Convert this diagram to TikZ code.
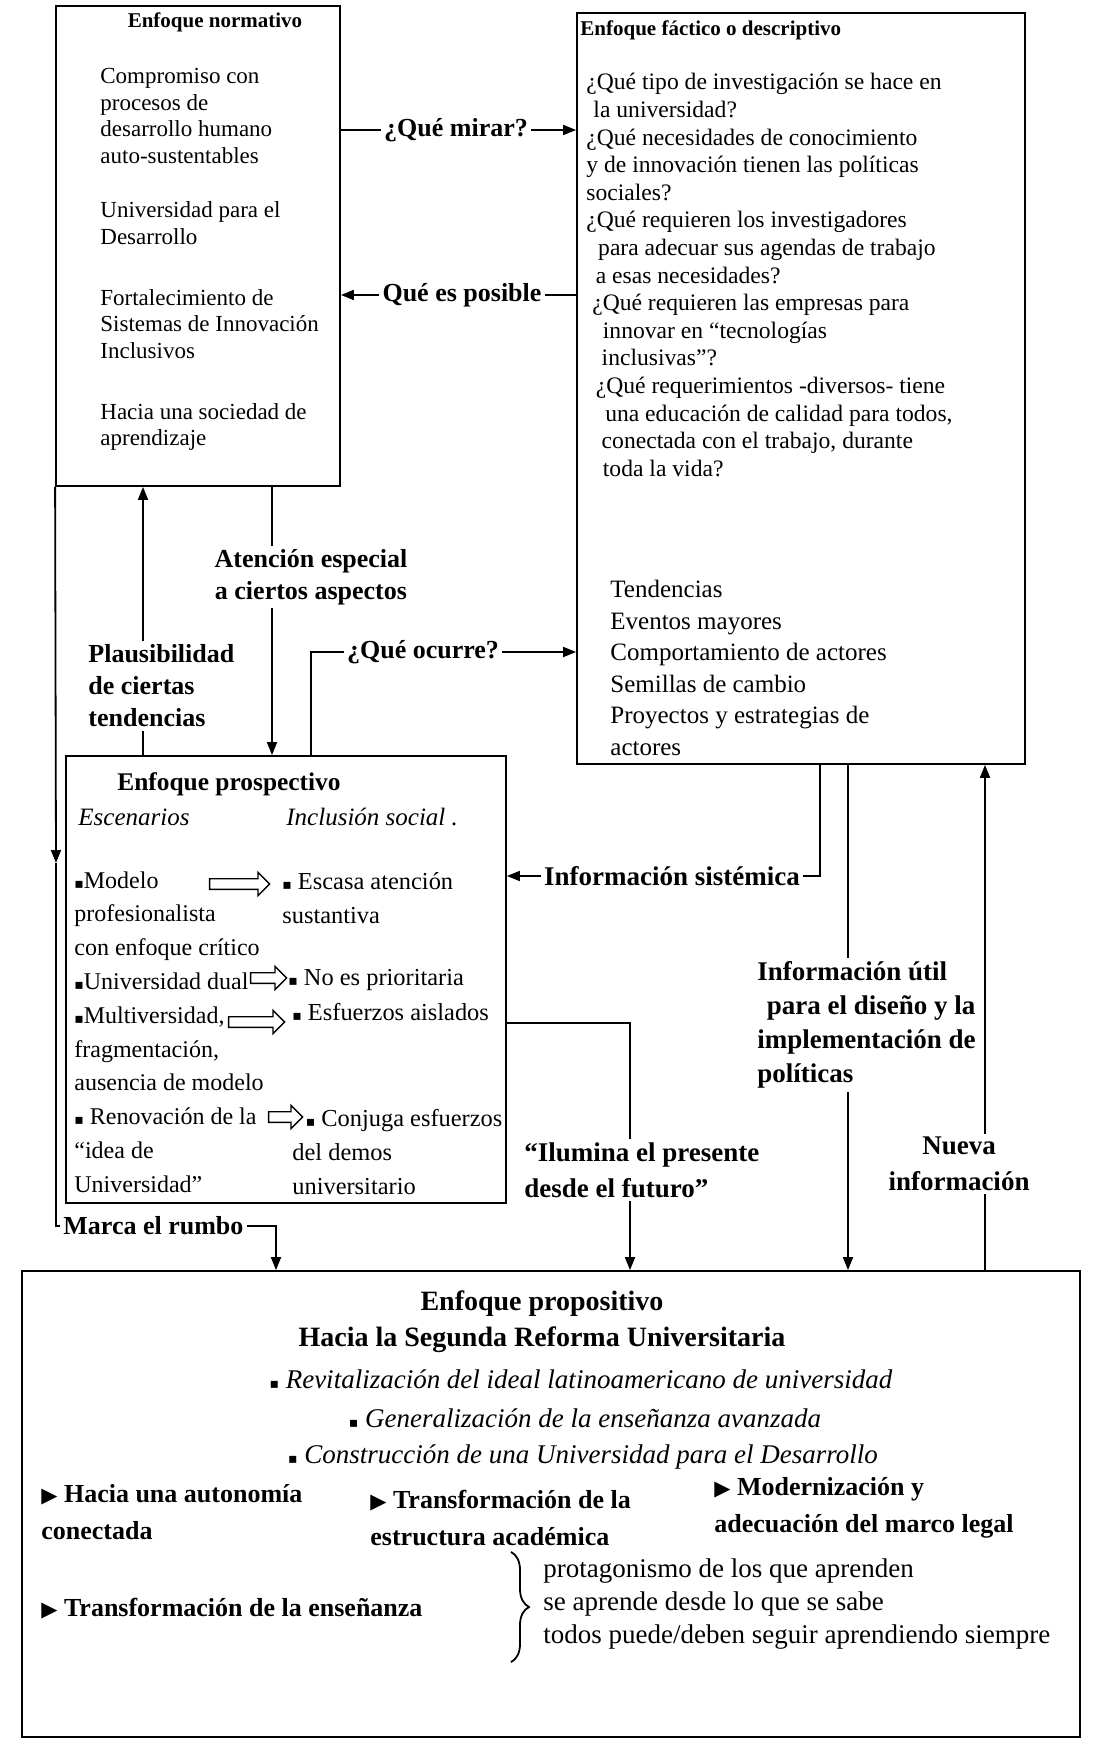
\documentclass[tikz,border=0pt]{standalone}
\usepackage{fontspec}
\setmainfont{Liberation Serif}
\newfontfamily\simbolos{DejaVu Sans}
\usepackage{tikz}
\usetikzlibrary{arrows.meta,shapes,positioning,calc,fit,decorations.pathreplacing}

\newcommand{\bulsq}{{\simbolos\fontsize{7}{7}\selectfont ▪}}
\newcommand{\bultri}{{\simbolos\fontsize{10.5}{10.5}\selectfont ▶}}

\begin{document}
\begin{tikzpicture}[x=0.5pt, y=-0.5pt,
    caja/.style={draw, line width=0.9pt, inner sep=0pt},
    titulo/.style={inner sep=0pt, font=\bfseries\fontsize{10.5}{12}\selectfont},
    texto/.style={align=left, inner sep=0pt, anchor=west},
    nortexto/.style={texto, font=\fontsize{11.5}{13.2}\selectfont},
    protexto/.style={texto, font=\fontsize{12.2}{16.9}\selectfont},
    negrita/.style={texto, font=\bfseries\fontsize{13}{18.5}\selectfont},
    etiqueta/.style={align=center, inner sep=1.5pt, font=\bfseries\fontsize{13}{16}\selectfont},
    linea/.style={line width=0.9pt},
    flecha/.style={linea, -{Triangle[length=6.5pt,width=5pt]}},
    hueca/.style={single arrow, draw, line width=0.7pt, inner xsep=0pt, inner ysep=2.3pt,
        single arrow head extend=3.2pt}]

    \useasboundingbox (0,0) rectangle (1100,1744);

    % 规范性方法
    \node[caja, fit={(56,6) (340,486)}] (norm) {};
    \node[titulo] (normtit) at (215,22) {Enfoque normativo};
    \node[nortexto] (norm1) at (100,116) {Compromiso con\\procesos de\\desarrollo humano\\auto-sustentables};
    \node[nortexto] (norm2) at (100,223) {Universidad para el\\Desarrollo};
    \node[nortexto] (norm3) at (100,324) {Fortalecimiento de\\Sistemas de Innovación\\Inclusivos};
    \node[nortexto] (norm4) at (100,427) {Hacia una sociedad de\\aprendizaje};

    % 事实性方法
    \node[caja, fit={(577,13) (1025,764)}] (fact) {};
    \node[titulo, anchor=west] (facttit) at (580,30) {Enfoque fáctico o descriptivo};
    \node[texto, font=\fontsize{11.8}{13.8}\selectfont] (preg) at (586,275) {¿Qué tipo de investigación se hace en\\
        \hspace*{0.3em}la universidad?\\
        ¿Qué necesidades de conocimiento\\
        y de innovación tienen las políticas\\
        sociales?\\
        ¿Qué requieren los investigadores\\
        \hspace*{0.5em}para adecuar sus agendas de trabajo\\
        \hspace*{0.4em}a esas necesidades?\\
        \hspace*{0.25em}¿Qué requieren las empresas para\\
        \hspace*{0.7em}innovar en “tecnologías\\
        \hspace*{0.65em}inclusivas”?\\
        \hspace*{0.4em}¿Qué requerimientos -diversos- tiene\\
        \hspace*{0.8em}una educación de calidad para todos,\\
        \hspace*{0.65em}conectada con el trabajo, durante\\
        \hspace*{0.7em}toda la vida?};
    \node[texto, font=\fontsize{12.5}{15.8}\selectfont] (sucesos) at (610,668) {Tendencias\\Eventos mayores\\Comportamiento de actores\\Semillas de cambio\\Proyectos y estrategias de\\actores};

    % 前瞻性方法
    \node[caja, fit={(66,756) (506,1203)}] (prosp) {};
    \node[texto, font=\bfseries\fontsize{12.7}{15}\selectfont] (prosptit) at (117,784) {Enfoque prospectivo};
    \node[texto, font=\itshape\fontsize{12.5}{15}\selectfont] (escen) at (78,817) {Escenarios};
    \node[texto, font=\itshape\fontsize{12.5}{15}\selectfont] (inclus) at (286,817) {Inclusión social .};
    \node[protexto, font=\fontsize{12}{16.9}\selectfont] (modelos) at (74,1032) {\bulsq Modelo\\profesionalista\\con enfoque crítico\\\bulsq Universidad dual\\\bulsq Multiversidad,\\fragmentación,\\ausencia de modelo\\\bulsq\ Renovación de la\\“idea de\\Universidad”};
    \node[protexto] (incl1) at (282,898) {\bulsq\ Escasa atención\\sustantiva};
    \node[protexto] (incl2) at (288,980) {\bulsq\ No es prioritaria};
    \node[protexto] (incl3) at (292,1012) {\bulsq\ Esfuerzos aislados};
    \node[protexto] (incl4) at (292,1152) {\hspace*{0.55em}\bulsq\ Conjuga esfuerzos\\del demos\\universitario};
    \node[hueca, minimum height=30pt] (h1) at (237,884) {};
    \node[hueca, minimum height=18pt] (h2) at (266,978) {};
    \node[hueca, minimum height=28pt] (h3) at (254,1022) {};
    \node[hueca, minimum height=17pt] (h4) at (283,1117) {};

    % 目的性方法
    \node[caja, fit={(22,1271) (1080,1737)}] (prop) {};
    \node[font=\bfseries\fontsize{14}{16}\selectfont] (proptit) at (542,1304) {Enfoque propositivo};
    \node[font=\bfseries\fontsize{14}{16}\selectfont] (reforma) at (542,1340) {Hacia la Segunda Reforma Universitaria};
    \node[font=\fontsize{13.5}{16}\selectfont] (ideal) at (581,1379) {\bulsq\ \textit{Revitalización del ideal latinoamericano de universidad}};
    \node[font=\fontsize{13.5}{16}\selectfont] (avanz) at (585,1418) {\bulsq\ \textit{Generalización de la enseñanza avanzada}};
    \node[font=\fontsize{13.5}{16}\selectfont] (desarr) at (583,1457) {\bulsq\ \textit{Construcción de una Universidad para el Desarrollo}};
    \node[negrita] (auton) at (41,1512) {\bultri\ Hacia una autonomía\\conectada};
    \node[negrita] (estruc) at (370,1518) {\bultri\ Transformación de la\\estructura académica};
    \node[negrita] (marco) at (714,1508) {\bultri\ Modernización y\\adecuación del marco legal};
    \node[negrita] (ensen) at (41,1609) {\bultri\ Transformación de la enseñanza};
    \node[texto, font=\fontsize{13.5}{16.7}\selectfont] (aprende) at (543,1604) {protagonismo de los que aprenden\\se aprende desde lo que se sabe\\todos puede/deben seguir aprendiendo siempre};
    \draw[linea, decorate, decoration={brace, amplitude=9pt}]
        ([xshift=-16pt,yshift=3pt]aprende.north west) -- ([xshift=-16pt,yshift=-6pt]aprende.south west);

    % 标签
    \node[etiqueta] (mirar) at (456,130) {¿Qué mirar?};
    \node[etiqueta] (posible) at (462,295) {Qué es posible};
    \node[etiqueta] (atencion) at (311,577) {Atención especial\\a ciertos aspectos};
    \node[etiqueta, align=left, anchor=west] (plaus) at (85,686) {Plausibilidad\\de ciertas\\tendencias};
    \node[etiqueta] (ocurre) at (423,652) {¿Qué ocurre?};
    \node[etiqueta, font=\bfseries\fontsize{13.5}{17}\selectfont] (sistem) at (672,876) {Información sistémica};
    \node[etiqueta, align=left, anchor=west, font=\bfseries\fontsize{13.5}{17}\selectfont] (util) at (754,1025) {Información útil\\\hspace*{0.35em}para el diseño y la\\implementación de\\políticas};
    \node[etiqueta, align=left, anchor=west, font=\bfseries\fontsize{13.5}{18}\selectfont] (ilumina) at (521,1170) {“Ilumina el presente\\desde el futuro”};
    \node[etiqueta, font=\bfseries\fontsize{13.5}{18}\selectfont] (nueva) at (959,1164) {Nueva\\información};
    \node[etiqueta, anchor=west] (marca) at (60,1226) {Marca el rumbo};

    % 连线
    \coordinate (xat) at (272,0);
    \coordinate (xpl) at (143,0);
    \coordinate (xoc) at (311,0);
    \coordinate (xsi) at (820,0);
    \coordinate (xut) at (848,0);
    \coordinate (xil) at (630,0);
    \coordinate (yil) at (0,1023);
    \coordinate (xnu) at (985,0);
    \coordinate (xma) at (276,0);
    \coordinate (medio) at (56,863);

    \draw[linea] (norm.east |- mirar) -- (mirar.west);
    \draw[flecha] (mirar.east) -- (fact.west |- mirar);
    \draw[linea] (fact.west |- posible) -- (posible.east);
    \draw[flecha] (posible.west) -- (norm.east |- posible);
    \draw[linea] (norm.south -| xat) -- (atencion.north -| xat);
    \draw[flecha] (atencion.south -| xat) -- (prosp.north -| xat);
    \draw[flecha] (plaus.north -| xpl) -- (norm.south -| xpl);
    \draw[linea] (prosp.north -| xpl) -- (plaus.south -| xpl);
    \draw[linea] (prosp.north -| xoc) |- (ocurre.west);
    \draw[flecha] (ocurre.east) -- (fact.west |- ocurre);
    \draw[linea] (fact.south -| xsi) |- (sistem.east);
    \draw[flecha] (sistem.west) -- (prosp.east |- sistem);
    \draw[linea] (fact.south -| xut) -- (util.north -| xut);
    \draw[flecha] (util.south -| xut) -- (prop.north -| xut);
    \draw[linea] (prosp.east |- yil) -| (ilumina.north -| xil);
    \draw[flecha] (ilumina.south -| xil) -- (prop.north -| xil);
    \draw[flecha] (nueva.north -| xnu) -- (fact.south -| xnu);
    \draw[linea] (nueva.south -| xnu) -- (prop.north -| xnu);
    \draw[flecha] (norm.south west) -- (medio);
    \draw[linea] (medio) |- (marca.west);
    \draw[flecha] (marca.east) -| (prop.north -| xma);
\end{tikzpicture}
\end{document}
